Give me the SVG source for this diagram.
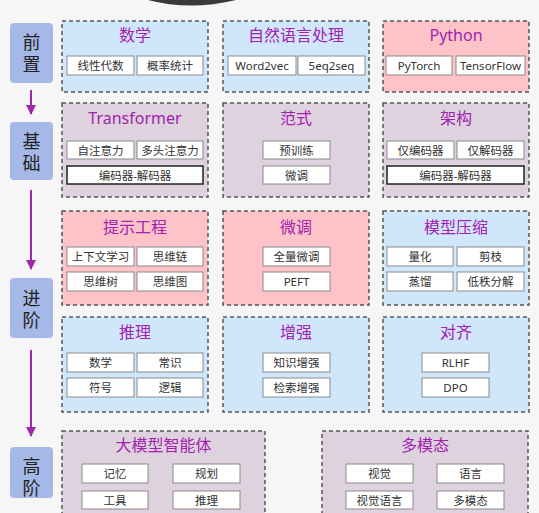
<svg xmlns="http://www.w3.org/2000/svg" width="539" height="513" viewBox="0 0 539 513">
<defs>
<marker id="ah" viewBox="0 0 10 10" refX="9" refY="5" markerWidth="5" markerHeight="5" orient="auto" markerUnits="strokeWidth">
<path d="M0,0 L10,5 L0,10 Z" fill="#9b2ba8"/>
</marker>
<style>
.stage{fill:#a6b8e8;}
.st{font-family:"Noto Sans CJK SC","Noto Sans",sans-serif;font-size:18px;fill:#222;text-anchor:middle;writing-mode:vertical-rl;letter-spacing:4px;}
.grp{stroke:#555;stroke-width:1.5;stroke-dasharray:4 3;}
.blue{fill:#cfe6fb;}
.pink{fill:#fec2c9;}
.mauve{fill:#ddd2de;}
.ttl{font-family:"Noto Sans","Noto Sans CJK SC",sans-serif;font-size:16px;fill:#a322ae;text-anchor:middle;}
.sub{fill:#fff;stroke:#8a8a8a;stroke-width:1;}
.subd{fill:#fff;stroke:#222;stroke-width:1.5;}
.sl{font-family:"Noto Sans","Noto Sans CJK SC",sans-serif;font-size:11.5px;fill:#333;text-anchor:middle;}
.conn{stroke:#9b2ba8;stroke-width:2;fill:none;}
</style>
</defs>
<rect width="539" height="513" fill="#f6f6f6"/>
<path d="M148,0 Q190,11 236,0 Z" fill="#3a3a3a"/>

<g id="connectors">
<line class="conn" x1="31" y1="90" x2="31" y2="114" marker-end="url(#ah)"/>
<line class="conn" x1="31" y1="190" x2="31" y2="269" marker-end="url(#ah)"/>
<line class="conn" x1="31" y1="350" x2="31" y2="436" marker-end="url(#ah)"/>
</g>

<g id="stage-qianzhi"><rect class="stage" x="10" y="23" width="43" height="60" rx="4"/><text class="st" x="31.5" y="55">前置</text></g>
<g id="stage-jichu"><rect class="stage" x="10" y="122" width="43" height="58" rx="4"/><text class="st" x="31.5" y="154">基础</text></g>
<g id="stage-jinjie"><rect class="stage" x="10" y="278" width="43" height="60" rx="4"/><text class="st" x="31.5" y="311">进阶</text></g>
<g id="stage-gaojie"><rect class="stage" x="10" y="447" width="43" height="51" rx="4"/><text class="st" x="31.5" y="479">高阶</text></g>

<!-- Row 1 -->
<g id="shuxue">
<rect class="grp blue" x="62" y="21" width="146" height="71"/>
<text class="ttl" x="135" y="41">数学</text>
<rect class="sub" x="67" y="56" width="67" height="19"/><text class="sl" x="100.5" y="70">线性代数</text>
<rect class="sub" x="137" y="56" width="66" height="19"/><text class="sl" x="170" y="70">概率统计</text>
</g>
<g id="nlp">
<rect class="grp blue" x="223" y="21" width="146" height="71"/>
<text class="ttl" x="296" y="41">自然语言处理</text>
<rect class="sub" x="228" y="56" width="68" height="19"/><text class="sl" x="262" y="70">Word2vec</text>
<rect class="sub" x="298" y="56" width="67" height="19"/><text class="sl" x="331.5" y="70">5eq2seq</text>
</g>
<g id="python">
<rect class="grp pink" x="383" y="21" width="146" height="71"/>
<text class="ttl" x="456" y="41">Python</text>
<rect class="sub" x="386" y="56" width="66" height="19"/><text class="sl" x="419" y="70">PyTorch</text>
<rect class="sub" x="456" y="56" width="69" height="19"/><text class="sl" x="490.5" y="70">TensorFlow</text>
</g>

<!-- Row 2 -->
<g id="transformer">
<rect class="grp mauve" x="62" y="103" width="146" height="94"/>
<text class="ttl" x="135" y="124">Transformer</text>
<rect class="sub" x="67" y="141" width="67" height="18"/><text class="sl" x="100.5" y="154.5">自注意力</text>
<rect class="sub" x="137" y="141" width="66" height="18"/><text class="sl" x="170" y="154.5">多头注意力</text>
<rect class="subd" x="67" y="166" width="136" height="18"/><text class="sl" x="135" y="179.5">编码器-解码器</text>
</g>
<g id="fanshi">
<rect class="grp mauve" x="223" y="103" width="146" height="94"/>
<text class="ttl" x="296" y="124">范式</text>
<rect class="sub" x="263" y="141" width="67" height="18"/><text class="sl" x="296.5" y="154.5">预训练</text>
<rect class="sub" x="263" y="166" width="67" height="18"/><text class="sl" x="296.5" y="179.5">微调</text>
</g>
<g id="jiagou">
<rect class="grp mauve" x="383" y="103" width="146" height="94"/>
<text class="ttl" x="456" y="124">架构</text>
<rect class="sub" x="387" y="141" width="67" height="18"/><text class="sl" x="420.5" y="154.5">仅编码器</text>
<rect class="sub" x="457" y="141" width="67" height="18"/><text class="sl" x="490.5" y="154.5">仅解码器</text>
<rect class="subd" x="387" y="166" width="137" height="18"/><text class="sl" x="455.5" y="179.5">编码器-解码器</text>
</g>

<!-- Row 3 -->
<g id="tishi">
<rect class="grp pink" x="62" y="211" width="146" height="94"/>
<text class="ttl" x="135" y="233">提示工程</text>
<rect class="sub" x="67" y="247" width="67" height="19"/><text class="sl" x="100.5" y="261">上下文学习</text>
<rect class="sub" x="137" y="247" width="66" height="19"/><text class="sl" x="170" y="261">思维链</text>
<rect class="sub" x="67" y="272" width="67" height="19"/><text class="sl" x="100.5" y="286">思维树</text>
<rect class="sub" x="137" y="272" width="66" height="19"/><text class="sl" x="170" y="286">思维图</text>
</g>
<g id="weitiao">
<rect class="grp pink" x="223" y="211" width="146" height="94"/>
<text class="ttl" x="296" y="233">微调</text>
<rect class="sub" x="263" y="247" width="67" height="19"/><text class="sl" x="296.5" y="261">全量微调</text>
<rect class="sub" x="263" y="272" width="67" height="19"/><text class="sl" x="296.5" y="286">PEFT</text>
</g>
<g id="yasuo">
<rect class="grp blue" x="383" y="211" width="146" height="94"/>
<text class="ttl" x="456" y="233">模型压缩</text>
<rect class="sub" x="387" y="247" width="66" height="19"/><text class="sl" x="420" y="261">量化</text>
<rect class="sub" x="457" y="247" width="67" height="19"/><text class="sl" x="490.5" y="261">剪枝</text>
<rect class="sub" x="387" y="272" width="66" height="19"/><text class="sl" x="420" y="286">蒸馏</text>
<rect class="sub" x="457" y="272" width="67" height="19"/><text class="sl" x="490.5" y="286">低秩分解</text>
</g>

<!-- Row 4 -->
<g id="tuili">
<rect class="grp blue" x="62" y="317" width="146" height="95"/>
<text class="ttl" x="135" y="338">推理</text>
<rect class="sub" x="67" y="353" width="67" height="19"/><text class="sl" x="100.5" y="367">数学</text>
<rect class="sub" x="137" y="353" width="66" height="19"/><text class="sl" x="170" y="367">常识</text>
<rect class="sub" x="67" y="378" width="67" height="19"/><text class="sl" x="100.5" y="392">符号</text>
<rect class="sub" x="137" y="378" width="66" height="19"/><text class="sl" x="170" y="392">逻辑</text>
</g>
<g id="zengqiang">
<rect class="grp blue" x="223" y="317" width="146" height="95"/>
<text class="ttl" x="296" y="338">增强</text>
<rect class="sub" x="263" y="353" width="67" height="19"/><text class="sl" x="296.5" y="367">知识增强</text>
<rect class="sub" x="263" y="378" width="67" height="19"/><text class="sl" x="296.5" y="392">检索增强</text>
</g>
<g id="duiqi">
<rect class="grp blue" x="383" y="317" width="146" height="95"/>
<text class="ttl" x="456" y="338">对齐</text>
<rect class="sub" x="422" y="353" width="67" height="19"/><text class="sl" x="455.5" y="367">RLHF</text>
<rect class="sub" x="422" y="378" width="67" height="19"/><text class="sl" x="455.5" y="392">DPO</text>
</g>

<!-- Row 5 -->
<g id="agent">
<rect class="grp mauve" x="62" y="431" width="203" height="95"/>
<text class="ttl" x="163.5" y="451">大模型智能体</text>
<rect class="sub" x="82" y="464" width="66" height="19"/><text class="sl" x="115" y="478">记忆</text>
<rect class="sub" x="173" y="464" width="67" height="19"/><text class="sl" x="206.5" y="478">规划</text>
<rect class="sub" x="82" y="491" width="66" height="18"/><text class="sl" x="115" y="504.5">工具</text>
<rect class="sub" x="173" y="491" width="67" height="18"/><text class="sl" x="206.5" y="504.5">推理</text>
</g>
<g id="multimodal">
<rect class="grp mauve" x="322" y="431" width="206" height="95"/>
<text class="ttl" x="425" y="451">多模态</text>
<rect class="sub" x="346" y="464" width="67" height="19"/><text class="sl" x="379.5" y="478">视觉</text>
<rect class="sub" x="437" y="464" width="67" height="19"/><text class="sl" x="470.5" y="478">语言</text>
<rect class="sub" x="346" y="491" width="67" height="18"/><text class="sl" x="379.5" y="504.5">视觉语言</text>
<rect class="sub" x="437" y="491" width="67" height="18"/><text class="sl" x="470.5" y="504.5">多模态</text>
</g>
</svg>
